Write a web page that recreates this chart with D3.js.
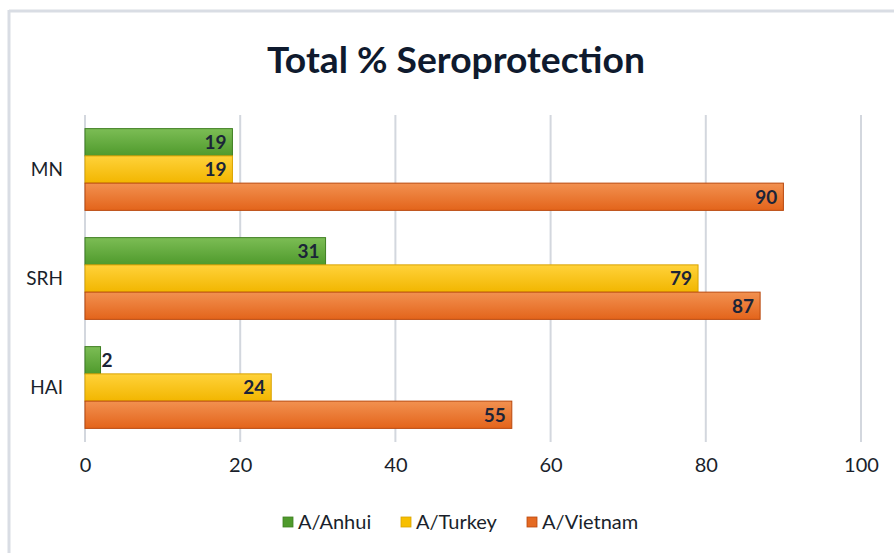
<!DOCTYPE html>
<html>
<head>
<meta charset="utf-8">
<script src="https://cdn.jsdelivr.net/npm/d3@7"></script>
<style>
  html, body { margin: 0; padding: 0; background: #ffffff; }
  svg { display: block; font-family: Lato, "Open Sans", sans-serif; }
</style>
</head>
<body>
<svg id="chart" width="895" height="553"></svg>
<script>
// Seroprotection rates (%) per assay, for each vaccine strain
const categories = ["MN", "SRH", "HAI"];
const seriesNames = ["A/Anhui", "A/Turkey", "A/Vietnam"];
const anhuiValues = [19, 31, 2];
const turkeyValues = [19, 79, 24];
const vietnamValues = [90, 87, 55];
const xTicks = [0, 20, 40, 60, 80, 100];

const seriesValues = [anhuiValues, turkeyValues, vietnamValues];
const palette = [
  { top: "#7cbd55", bottom: "#4f9a2c", stroke: "#3f7f22", key: "#4f9a2c" },
  { top: "#ffd23a", bottom: "#f2b600", stroke: "#d9a300", key: "#f7bf00" },
  { top: "#f29150", bottom: "#e3641b", stroke: "#b9480d", key: "#e56a22" }
];

const svg = d3.select("#chart");
const W = 895, H = 553;
const margin = { left: 85, right: 34, top: 115, bottom: 111 };

// Chart frame (top and left edges)
svg.append("line").attr("x1", 9).attr("x2", 894).attr("y1", 11).attr("y2", 11)
  .attr("stroke", "#d9dde4").attr("stroke-width", 3);
svg.append("line").attr("x1", 9).attr("x2", 9).attr("y1", 10).attr("y2", H)
  .attr("stroke", "#d9dde4").attr("stroke-width", 3);

// Gradients for the bar fills
const defs = svg.append("defs");
palette.forEach((p, i) => {
  const g = defs.append("linearGradient").attr("id", "grad" + i)
    .attr("x1", 0).attr("x2", 0).attr("y1", 0).attr("y2", 1);
  g.append("stop").attr("offset", "0%").attr("stop-color", p.top);
  g.append("stop").attr("offset", "100%").attr("stop-color", p.bottom);
});

const x = d3.scaleLinear().domain([0, 100]).range([margin.left, W - margin.right]);
const y = d3.scaleBand().domain(categories).range([margin.top, H - margin.bottom]).paddingInner(0.25).paddingOuter(0.125);
const ySub = d3.scaleBand().domain(seriesNames).range([0, y.bandwidth()]);

// Title
svg.append("text")
  .attr("x", 456).attr("y", 73)
  .attr("text-anchor", "middle")
  .attr("font-size", 37).attr("font-weight", 700)
  .attr("fill", "#0f1a2e")
  .attr("textLength", 378).attr("lengthAdjust", "spacingAndGlyphs")
  .text("Total % Seroprotection");

// Vertical gridlines
svg.append("g").selectAll("line").data(xTicks).join("line")
  .attr("x1", d => x(d)).attr("x2", d => x(d))
  .attr("y1", margin.top).attr("y2", H - margin.bottom)
  .attr("stroke", "#d3d7de").attr("stroke-width", 2);

// X axis labels
const xAxis = d3.axisBottom(x).tickValues(xTicks).tickSize(0).tickPadding(0);
const gx = svg.append("g").attr("transform", `translate(0, ${H - margin.bottom + 16})`).call(xAxis);
gx.select(".domain").remove();
gx.selectAll("text").attr("font-size", 20).attr("fill", "#1a1f2b")
  .attr("font-family", "Lato, 'Open Sans', sans-serif").attr("dy", "0.71em");

// Y axis labels
const yAxis = d3.axisLeft(y).tickSize(0).tickPadding(0);
const gy = svg.append("g").attr("transform", "translate(63, 0)").call(yAxis);
gy.select(".domain").remove();
gy.selectAll("text").attr("font-size", 19).attr("fill", "#1a1f2b")
  .attr("font-family", "Lato, 'Open Sans', sans-serif");

// Bars and value labels
const rows = [];
categories.forEach((c, ci) => {
  seriesNames.forEach((s, si) => {
    rows.push({ cat: c, series: s, si: si, value: seriesValues[si][ci] });
  });
});

const barG = svg.append("g");
barG.selectAll("rect").data(rows).join("rect")
  .attr("x", x(0))
  .attr("y", d => y(d.cat) + ySub(d.series))
  .attr("width", d => x(d.value) - x(0))
  .attr("height", ySub.bandwidth())
  .attr("fill", d => `url(#grad${d.si})`)
  .attr("stroke", d => palette[d.si].stroke)
  .attr("stroke-width", 1);

barG.selectAll("text").data(rows).join("text")
  .attr("x", d => {
    const w = x(d.value) - x(0);
    return w > 30 ? x(d.value) - 6 : x(d.value) + 1;
  })
  .attr("y", d => y(d.cat) + ySub(d.series) + ySub.bandwidth() / 2)
  .attr("dy", "0.36em")
  .attr("text-anchor", d => (x(d.value) - x(0) > 30 ? "end" : "start"))
  .attr("font-size", 19).attr("font-weight", 700)
  .attr("fill", "#1b2438")
  .text(d => d.value);

// Legend
const legendX = [283, 401, 527];
const legend = svg.append("g").selectAll("g").data(seriesNames).join("g")
  .attr("transform", (d, i) => `translate(${legendX[i]}, 522)`);
legend.append("rect")
  .attr("x", 0).attr("y", -5).attr("width", 10).attr("height", 10)
  .attr("fill", (d, i) => palette[i].key)
  .attr("stroke", (d, i) => palette[i].stroke).attr("stroke-width", 0.8);
legend.append("text")
  .attr("x", 15).attr("y", 0).attr("dy", "0.36em")
  .attr("font-size", 20).attr("fill", "#1a1f2b")
  .text(d => d);
</script>
</body>
</html>
